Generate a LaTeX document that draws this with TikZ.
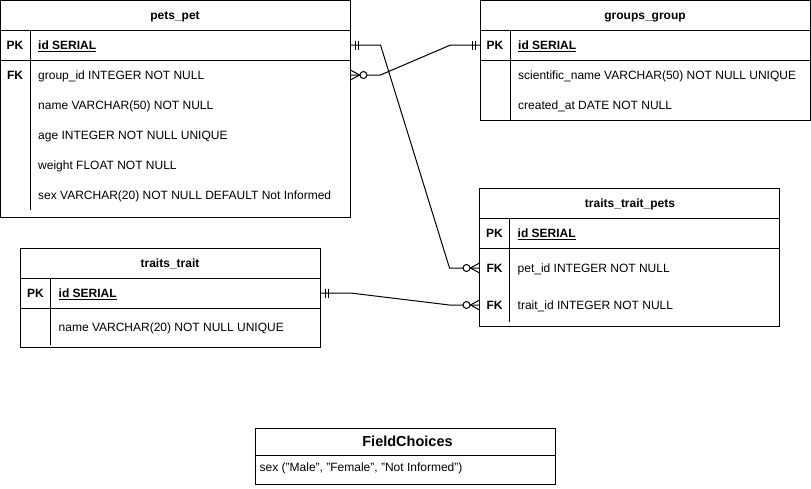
\documentclass[tikz,border=0pt]{standalone}
\usepackage{fontspec}
\setmainfont{Liberation Sans}
\usetikzlibrary{positioning}

% crow's foot ends: #1 end point, #2 direction (1 = right, -1 = left)
\newcommand{\mandone}[2]{%
	\draw[link] ([xshift=#2*5pt]#1) ++(0,-4.5) -- ++(0,9)
		([xshift=#2*8pt]#1) ++(0,-4.5) -- ++(0,9);}
\newcommand{\zeromany}[2]{%
	\draw[link] ([yshift=5pt]#1) -- ([xshift=#2*9pt]#1) -- ([yshift=-5pt]#1);
	\draw[link,fill=white] ([xshift=#2*13pt]#1) circle (3.5pt);}

\begin{document}
\begin{tikzpicture}[
		x=1pt,y=-1pt,
		link/.style={line width=1pt},
		tbl/.style={draw,line width=1pt,anchor=north west,inner sep=0,outer sep=0},
		title/.style={font=\bfseries\fontsize{12}{14}\selectfont,inner sep=0,text height=8.6pt,text depth=0pt},
		key/.style={font=\bfseries\fontsize{12}{14}\selectfont,inner sep=0,text height=8.6pt,text depth=0pt},
		field/.style={font=\fontsize{12}{14}\selectfont,anchor=west,inner sep=0,text height=8.6pt,text depth=0pt}]
		\useasboundingbox (0,0) rectangle (811,488);
		% pets_pet
		\node[tbl,minimum width=350pt,minimum height=217pt] (pets) at (0.5,0.5) {};
		\draw[link] (0.5,30) -- (350.5,30) (0.5,60) -- (350.5,60) (30.5,30) -- (30.5,210);
		\node[title] (pets-t) at (175,15) {pets\_pet};
		\node[key] (pets-pk) at (15,45) {PK};
		\node[field,font=\bfseries\fontsize{12}{14}\selectfont] (pets-id) at (38,45) {\underline{id SERIAL}};
		\node[key] (pets-fk) at (15,75) {FK};
		\node[field] (pets-group) at (38,75) {group\_id INTEGER NOT NULL};
		\node[field] (pets-name) at (38,105) {name VARCHAR(50) NOT NULL};
		\node[field] (pets-age) at (38,135) {age INTEGER NOT NULL UNIQUE};
		\node[field] (pets-weight) at (38,165) {weight FLOAT NOT NULL};
		\node[field] (pets-sex) at (38,195) {sex VARCHAR(20) NOT NULL DEFAULT Not Informed};
		% groups_group
		\node[tbl,minimum width=330pt,minimum height=119.5pt] (groups) at (480.5,0.5) {};
		\draw[link] (480.5,30) -- (810.5,30) (480.5,60) -- (810.5,60) (510.5,30) -- (510.5,120);
		\node[title] (groups-t) at (645,15) {groups\_group};
		\node[key] (groups-pk) at (495,45) {PK};
		\node[field,font=\bfseries\fontsize{12}{14}\selectfont] (groups-id) at (518,45) {\underline{id SERIAL}};
		\node[field] (groups-name) at (518,75) {scientific\_name VARCHAR(50) NOT NULL UNIQUE};
		\node[field] (groups-date) at (518,105) {created\_at DATE NOT NULL};
		% traits_trait_pets
		\node[tbl,minimum width=300pt,minimum height=138pt] (tpets) at (479.5,188) {};
		\draw[link] (479.5,218) -- (779.5,218) (479.5,248) -- (779.5,248) (509.5,218) -- (509.5,322);
		\node[title] (tpets-t) at (630,203) {traits\_trait\_pets};
		\node[key] (tpets-pk) at (494.5,233) {PK};
		\node[field,font=\bfseries\fontsize{12}{14}\selectfont] (tpets-id) at (517.5,233) {\underline{id SERIAL}};
		\node[key] (tpets-fk1) at (494.5,268) {FK};
		\node[field] (tpets-pet) at (517.5,268) {pet\_id INTEGER NOT NULL};
		\node[key] (tpets-fk2) at (494.5,305) {FK};
		\node[field] (tpets-trait) at (517.5,305) {trait\_id INTEGER NOT NULL};
		% traits_trait
		\node[tbl,minimum width=300pt,minimum height=99pt] (traits) at (20.5,248) {};
		\draw[link] (20.5,278) -- (320.5,278) (20.5,308) -- (320.5,308) (50.5,278) -- (50.5,345);
		\node[title] (traits-t) at (170,263) {traits\_trait};
		\node[key] (traits-pk) at (35.5,293) {PK};
		\node[field,font=\bfseries\fontsize{12}{14}\selectfont] (traits-id) at (58.5,293) {\underline{id SERIAL}};
		\node[field] (traits-name) at (58.5,327) {name VARCHAR(20) NOT NULL UNIQUE};
		% FieldChoices
		\node[tbl,minimum width=300pt,minimum height=56pt] (choices) at (255.5,428) {};
		\draw[link] (255.5,455) -- (555.5,455);
		\node[title,font=\bfseries\fontsize{14.5}{16}\selectfont,text height=10.4pt] (choices-t) at (407.5,441.5) {FieldChoices};
		\node[field] (choices-sex) at (259.5,467) {sex ("Male", "Female", "Not Informed")};
		% relations
		\coordinate (pp-id) at (350.5,45);
		\coordinate (pp-group) at (350.5,75);
		\coordinate (gg-id) at (480.5,45);
		\coordinate (tp-pet) at (479.5,268);
		\coordinate (tp-trait) at (479.5,305);
		\coordinate (tt-id) at (320.5,293);
		\draw[link] (pp-id) -- ++(30,0) -- ([xshift=-30pt]tp-pet) -- (tp-pet);
		\draw[link] (pp-group) -- ++(30,0) -- ([xshift=-30pt]gg-id) -- (gg-id);
		\draw[link] (tt-id) -- ++(30,0) -- ([xshift=-30pt]tp-trait) -- (tp-trait);
		\mandone{pp-id}{1}
		\zeromany{tp-pet}{-1}
		\zeromany{pp-group}{1}
		\mandone{gg-id}{-1}
		\mandone{tt-id}{1}
		\zeromany{tp-trait}{-1}
\end{tikzpicture}
\end{document}
